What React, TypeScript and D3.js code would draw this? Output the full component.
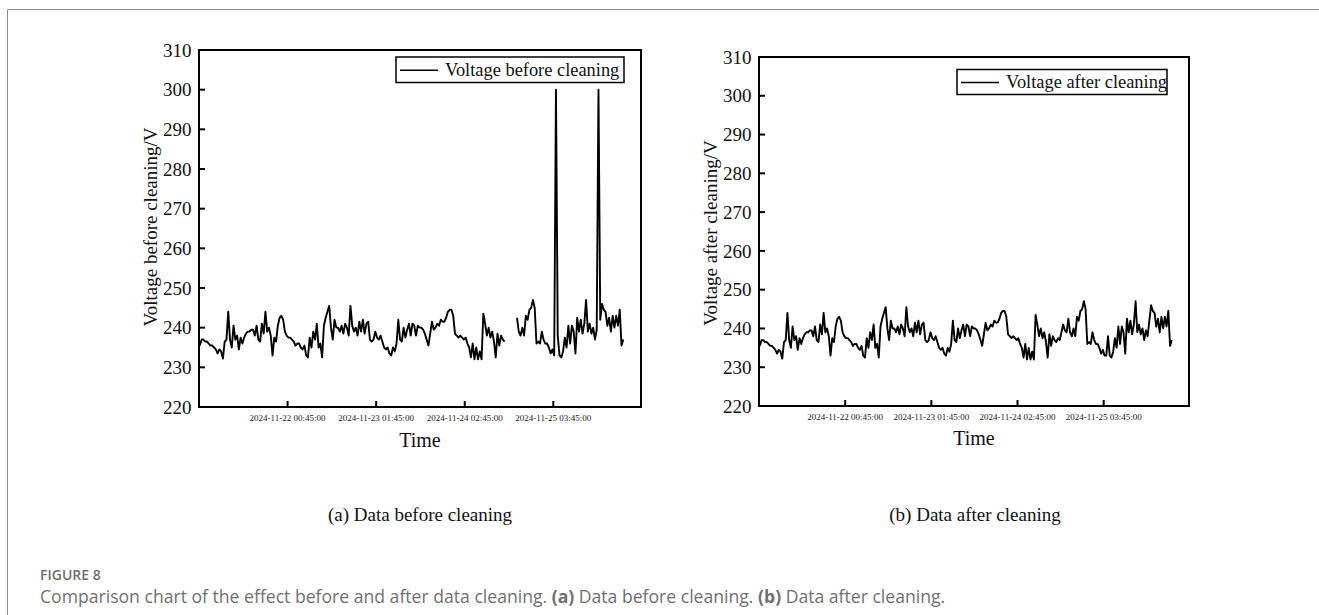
import React, { useRef, useEffect } from 'react';
import * as d3 from 'd3';

// voltage readings, one every 30 minutes, per day
const dayStarts = ['2024-11-21 00:00:00', '2024-11-22 00:00:00', '2024-11-23 00:00:00', '2024-11-24 00:00:00', '2024-11-25 00:00:00'];
const day1 = [235.5, 237, 237, 236.5, 236.5, 236, 235.5, 235.5, 235, 234.5, 233.5, 234.5, 234, 232.2, 236.5, 237, 244, 237, 235, 240.5, 237, 238, 234.5, 237.5, 236, 237.5, 238.5, 239, 239, 239.5, 239.5, 238, 240.5, 237, 236.5, 241, 238.5, 244, 239, 240, 238, 233, 237.5, 236.5, 240.5, 242.5, 243, 242];
const day2 = [239, 238, 237.5, 237.5, 237, 236.5, 235.5, 236, 236, 235, 234.5, 235.5, 233, 232.5, 237.5, 235, 239, 237, 241, 235, 236, 232.5, 240.5, 242.5, 244, 245.5, 240, 237, 242, 240, 240, 239, 240.5, 238.5, 241, 240, 238, 245.5, 240.5, 239, 240, 238, 241.5, 239, 242, 238.5, 241, 241.5];
const day3 = [237, 236.5, 237, 239, 237.5, 237, 238, 236.5, 235, 234.5, 235, 233.5, 233, 235, 234, 236, 242, 237, 236.5, 240, 237.5, 239.5, 241, 238, 241, 240.5, 238, 240.5, 240, 240, 239.5, 238.5, 237, 235.5, 238.5, 241.5, 239.5, 240, 241, 240.5, 242, 241.5, 241.5, 242.5, 244, 244.5, 244.5, 243];
const day4 = [238.5, 238, 237.5, 238, 237.5, 237, 237.5, 236, 235, 232.5, 236, 232, 235, 232, 234, 232, 243.5, 241, 238, 240, 237.5, 239, 236.5, 232.5, 238.5, 235.5, 238, 237, 236.5, 237.5, 237, 239, 241, 239.5, 239, 242.5, 239, 238, 240, 238, 243, 242, 244.5, 245, 247, 245, 236, 236.5];
const day5 = [236, 239, 237, 236, 236, 235, 233.5, 234.5, 233, 233, 238, 233, 232.5, 234, 237.5, 235, 240.5, 236, 240.5, 239, 233.5, 242.5, 239, 242, 238.5, 241, 247, 239, 241, 238.5, 240, 237, 239.5, 238, 242, 246, 244.5, 244, 240.5, 242.5, 239, 243, 240, 243, 240.5, 244.5, 235.5, 237];
const days = [day1, day2, day3, day4, day5];
const stepMinutes = 30;

// raw data: missing block and outliers
const missingFrom = '2024-11-24 14:30:00';
const missingTo = '2024-11-24 17:00:00';
const outliers = [
  { time: '2024-11-25 04:30:00', value: 300 },
  { time: '2024-11-25 16:30:00', value: 300 },
];

const xStart = '2024-11-20 23:45:00';
const xEnd = '2024-11-26 04:30:00';
const xTickLabels = ['2024-11-22 00:45:00', '2024-11-23 01:45:00', '2024-11-24 02:45:00', '2024-11-25 03:45:00'];
const yTicks = [220, 230, 240, 250, 260, 270, 280, 290, 300, 310];

interface Pt { t: Date; v: number | null; }

const parse = d3.timeParse('%Y-%m-%d %H:%M:%S');
const fmt = d3.timeFormat('%Y-%m-%d %H:%M:%S');

const afterData: Pt[] = [];
days.forEach((vals, d) => {
  const start = parse(dayStarts[d]) as Date;
  vals.forEach((v, k) => afterData.push({ t: d3.timeMinute.offset(start, k * stepMinutes), v }));
});

const gapA = (parse(missingFrom) as Date).getTime();
const gapB = (parse(missingTo) as Date).getTime();
const beforeData: Pt[] = afterData.map(p => {
  const ms = p.t.getTime();
  if (ms >= gapA && ms <= gapB) return { t: p.t, v: null };
  const o = outliers.find(q => (parse(q.time) as Date).getTime() === ms);
  return o ? { t: p.t, v: o.value } : p;
});

const SERIF = '"Liberation Serif", "Times New Roman", serif';
const SANS = '"Open Sans", "Noto Sans", sans-serif';

interface Panel {
  data: Pt[];
  x0: number; x1: number; y0: number; y1: number;
  yTitle: string; yTitleX: number; yTitleY: number;
  legend: string; legendBox: [number, number, number, number];
  timeY: number;
}

const panels: Panel[] = [
  {
    data: beforeData, x0: 199, x1: 641, y0: 50, y1: 407,
    yTitle: 'Voltage before cleaning/V', yTitleX: 150, yTitleY: 227,
    legend: 'Voltage before cleaning', legendBox: [396, 57, 228, 25.5], timeY: 447,
  },
  {
    data: afterData, x0: 759, x1: 1189, y0: 57, y1: 406,
    yTitle: 'Voltage after cleaning/V', yTitleX: 710, yTitleY: 233,
    legend: 'Voltage after cleaning', legendBox: [957, 69.5, 210, 25], timeY: 445,
  },
];

const App: React.FC = () => {
  const svgRef = useRef<SVGSVGElement>(null);

  useEffect(() => {
    if (!svgRef.current) return;
    const svg = d3.select(svgRef.current);
    svg.selectAll('*').remove();

    // outer page frame
    svg.append('path')
      .attr('d', 'M1319,9.5 L7.5,9.5 L7.5,615')
      .attr('fill', 'none')
      .attr('stroke', '#8c8c8c')
      .attr('stroke-width', 1);

    panels.forEach(p => {
      const g = svg.append('g');
      const x = d3.scaleTime()
        .domain([parse(xStart) as Date, parse(xEnd) as Date])
        .range([p.x0, p.x1]);
      const y = d3.scaleLinear().domain([220, 310]).range([p.y1, p.y0]);

      // data line
      const line = d3.line<Pt>()
        .defined(d => d.v != null)
        .x(d => x(d.t))
        .y(d => y(d.v as number));
      g.append('path')
        .datum(p.data)
        .attr('d', line)
        .attr('fill', 'none')
        .attr('stroke', '#000')
        .attr('stroke-width', 1.9)
        .attr('stroke-linejoin', 'round');

      // y ticks (inward) and labels
      yTicks.forEach(t => {
        g.append('line')
          .attr('x1', p.x0).attr('x2', p.x0 + 6)
          .attr('y1', y(t)).attr('y2', y(t))
          .attr('stroke', '#000').attr('stroke-width', 2);
        g.append('text')
          .attr('x', p.x0 - 7.5)
          .attr('y', y(t))
          .attr('dy', '0.35em')
          .attr('text-anchor', 'end')
          .style('font-family', SERIF)
          .style('font-size', '19px')
          .attr('fill', '#111')
          .text(t);
      });

      // x ticks (inward) and labels
      xTickLabels.forEach(s => {
        const tx = x(parse(s) as Date);
        g.append('line')
          .attr('x1', tx).attr('x2', tx)
          .attr('y1', p.y1).attr('y2', p.y1 - 6)
          .attr('stroke', '#000').attr('stroke-width', 2);
        g.append('text')
          .attr('x', tx)
          .attr('y', p.y1 + 14)
          .attr('text-anchor', 'middle')
          .style('font-family', SERIF)
          .style('font-size', '9px')
          .attr('fill', '#222')
          .text(fmt(parse(s) as Date));
      });

      // frame
      g.append('rect')
        .attr('x', p.x0).attr('y', p.y0)
        .attr('width', p.x1 - p.x0).attr('height', p.y1 - p.y0)
        .attr('fill', 'none')
        .attr('stroke', '#000')
        .attr('stroke-width', 2);

      // axis titles
      g.append('text')
        .attr('x', (p.x0 + p.x1) / 2)
        .attr('y', p.timeY)
        .attr('text-anchor', 'middle')
        .style('font-family', SERIF)
        .style('font-size', '20px')
        .attr('fill', '#111')
        .text('Time');
      g.append('text')
        .attr('transform', `translate(${p.yTitleX},${p.yTitleY}) rotate(-90)`)
        .attr('text-anchor', 'middle')
        .attr('dy', '0.35em')
        .style('font-family', SERIF)
        .style('font-size', '19px')
        .attr('fill', '#111')
        .text(p.yTitle);

      // legend
      const [lx, ly, lw, lh] = p.legendBox;
      g.append('rect')
        .attr('x', lx).attr('y', ly).attr('width', lw).attr('height', lh)
        .attr('fill', '#fff').attr('stroke', '#000').attr('stroke-width', 1.5);
      g.append('line')
        .attr('x1', lx + 4).attr('x2', lx + 42)
        .attr('y1', ly + lh / 2 + 0.5).attr('y2', ly + lh / 2 + 0.5)
        .attr('stroke', '#000').attr('stroke-width', 1.5);
      g.append('text')
        .attr('x', lx + 49)
        .attr('y', ly + lh / 2)
        .attr('dy', '0.35em')
        .style('font-family', SERIF)
        .style('font-size', '18.4px')
        .attr('fill', '#111')
        .text(p.legend);
    });

    // sub captions
    [['(a) Data before cleaning', 420], ['(b) Data after cleaning', 975]].forEach(([s, cx]) => {
      svg.append('text')
        .attr('x', cx as number)
        .attr('y', 521)
        .attr('text-anchor', 'middle')
        .style('font-family', SERIF)
        .style('font-size', '19px')
        .attr('fill', '#111')
        .text(s as string);
    });

    // figure caption
    svg.append('text')
      .attr('x', 40).attr('y', 580)
      .style('font-family', SANS)
      .style('font-size', '14px')
      .style('font-weight', 600)
      .attr('fill', '#6e6e6e')
      .text('FIGURE 8');
    const cap = svg.append('text')
      .attr('x', 40).attr('y', 603)
      .style('font-family', SANS)
      .style('font-size', '17.6px')
      .attr('fill', '#707070');
    cap.append('tspan').text('Comparison chart of the effect before and after data cleaning. ');
    cap.append('tspan').style('font-weight', 700).text('(a)');
    cap.append('tspan').text(' Data before cleaning. ');
    cap.append('tspan').style('font-weight', 700).text('(b)');
    cap.append('tspan').text(' Data after cleaning.');
  }, []);

  return (
    <div style={{ position: 'absolute', left: 0, top: 0 }}>
      <svg ref={svgRef} width={1319} height={615} viewBox="0 0 1319 615" style={{ display: 'block', background: '#fff' }} />
    </div>
  );
};

export default App;
